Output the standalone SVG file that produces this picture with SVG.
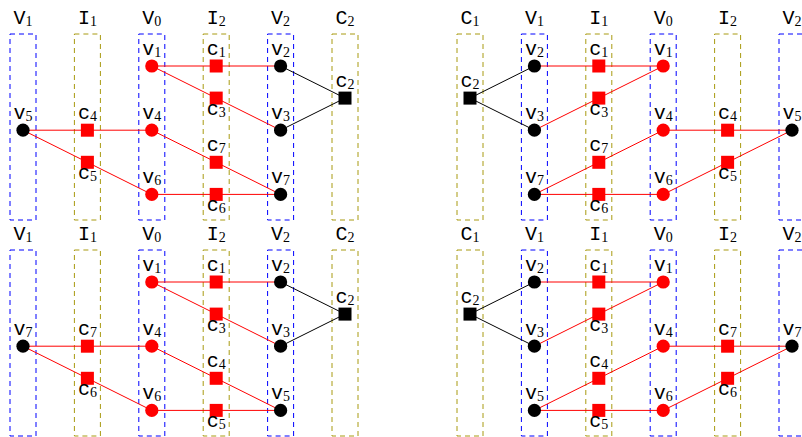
<svg xmlns="http://www.w3.org/2000/svg" width="802" height="437" viewBox="0 0 802 437">
<style>
.bv{fill:none;stroke:#0000ff;stroke-width:1;stroke-dasharray:5 4}
.bo{fill:none;stroke:#a89a10;stroke-width:1;stroke-dasharray:5 4}
.er{stroke:#ff0000;stroke-width:1;fill:none}
.eb{stroke:#000000;stroke-width:1;fill:none}
.nr{fill:#ff0000}
.nb{fill:#000000}
.t{font-family:"Liberation Mono",monospace;font-size:20px;fill:#000;text-anchor:middle}
.s{font-family:"Liberation Serif",serif;font-size:14px}
</style>
<rect width="802" height="437" fill="#fff"/>
<!-- column boxes and headers -->
<g id="columns">
<g id="tl-cols">
<rect class="bv" x="10" y="34" width="26" height="186"/><text class="t" x="23" y="24">V<tspan class="s" dy="2">1</tspan></text>
<rect class="bo" x="74.4" y="34" width="26" height="186"/><text class="t" x="87.4" y="24">I<tspan class="s" dy="2">1</tspan></text>
<rect class="bv" x="138.8" y="34" width="26" height="186"/><text class="t" x="151.8" y="24">V<tspan class="s" dy="2">0</tspan></text>
<rect class="bo" x="203.2" y="34" width="26" height="186"/><text class="t" x="216.2" y="24">I<tspan class="s" dy="2">2</tspan></text>
<rect class="bv" x="267.6" y="34" width="26" height="186"/><text class="t" x="280.6" y="24">V<tspan class="s" dy="2">2</tspan></text>
<rect class="bo" x="332" y="34" width="26" height="186"/><text class="t" x="345" y="24">C<tspan class="s" dy="2">2</tspan></text>
</g>
<g id="tr-cols">
<rect class="bo" x="457" y="34" width="26" height="186"/><text class="t" x="470" y="24">C<tspan class="s" dy="2">1</tspan></text>
<rect class="bv" x="521.4" y="34" width="26" height="186"/><text class="t" x="534.4" y="24">V<tspan class="s" dy="2">1</tspan></text>
<rect class="bo" x="585.8" y="34" width="26" height="186"/><text class="t" x="598.8" y="24">I<tspan class="s" dy="2">1</tspan></text>
<rect class="bv" x="650.2" y="34" width="26" height="186"/><text class="t" x="663.2" y="24">V<tspan class="s" dy="2">0</tspan></text>
<rect class="bo" x="714.6" y="34" width="26" height="186"/><text class="t" x="727.6" y="24">I<tspan class="s" dy="2">2</tspan></text>
<rect class="bv" x="779" y="34" width="26" height="186"/><text class="t" x="792" y="24">V<tspan class="s" dy="2">2</tspan></text>
</g>
<g id="bl-cols">
<rect class="bv" x="10" y="250" width="26" height="186"/><text class="t" x="23" y="240">V<tspan class="s" dy="2">1</tspan></text>
<rect class="bo" x="74.4" y="250" width="26" height="186"/><text class="t" x="87.4" y="240">I<tspan class="s" dy="2">1</tspan></text>
<rect class="bv" x="138.8" y="250" width="26" height="186"/><text class="t" x="151.8" y="240">V<tspan class="s" dy="2">0</tspan></text>
<rect class="bo" x="203.2" y="250" width="26" height="186"/><text class="t" x="216.2" y="240">I<tspan class="s" dy="2">2</tspan></text>
<rect class="bv" x="267.6" y="250" width="26" height="186"/><text class="t" x="280.6" y="240">V<tspan class="s" dy="2">2</tspan></text>
<rect class="bo" x="332" y="250" width="26" height="186"/><text class="t" x="345" y="240">C<tspan class="s" dy="2">2</tspan></text>
</g>
<g id="br-cols">
<rect class="bo" x="457" y="250" width="26" height="186"/><text class="t" x="470" y="240">C<tspan class="s" dy="2">1</tspan></text>
<rect class="bv" x="521.4" y="250" width="26" height="186"/><text class="t" x="534.4" y="240">V<tspan class="s" dy="2">1</tspan></text>
<rect class="bo" x="585.8" y="250" width="26" height="186"/><text class="t" x="598.8" y="240">I<tspan class="s" dy="2">1</tspan></text>
<rect class="bv" x="650.2" y="250" width="26" height="186"/><text class="t" x="663.2" y="240">V<tspan class="s" dy="2">0</tspan></text>
<rect class="bo" x="714.6" y="250" width="26" height="186"/><text class="t" x="727.6" y="240">I<tspan class="s" dy="2">2</tspan></text>
<rect class="bv" x="779" y="250" width="26" height="186"/><text class="t" x="792" y="240">V<tspan class="s" dy="2">2</tspan></text>
</g>
</g>
<!-- connectors -->
<g id="connectors">
<line class="er" x1="151.8" y1="66" x2="280.6" y2="66"/>
<line class="er" x1="151.8" y1="66" x2="280.6" y2="130.2"/>
<line class="eb" x1="280.6" y1="66" x2="345" y2="98.1"/>
<line class="eb" x1="280.6" y1="130.2" x2="345" y2="98.1"/>
<line class="er" x1="23" y1="130.2" x2="151.8" y2="130.2"/>
<line class="er" x1="23" y1="130.2" x2="151.8" y2="194.4"/>
<line class="er" x1="151.8" y1="130.2" x2="280.6" y2="194.4"/>
<line class="er" x1="151.8" y1="194.4" x2="280.6" y2="194.4"/>

<line class="eb" x1="470" y1="98.1" x2="534.4" y2="66"/>
<line class="eb" x1="470" y1="98.1" x2="534.4" y2="130.2"/>
<line class="er" x1="534.4" y1="66" x2="663.2" y2="66"/>
<line class="er" x1="534.4" y1="130.2" x2="663.2" y2="66"/>
<line class="er" x1="534.4" y1="194.4" x2="663.2" y2="130.2"/>
<line class="er" x1="534.4" y1="194.4" x2="663.2" y2="194.4"/>
<line class="er" x1="663.2" y1="130.2" x2="792" y2="130.2"/>
<line class="er" x1="663.2" y1="194.4" x2="792" y2="130.2"/>

<line class="er" x1="151.8" y1="282" x2="280.6" y2="282"/>
<line class="er" x1="151.8" y1="282" x2="280.6" y2="346.2"/>
<line class="eb" x1="280.6" y1="282" x2="345" y2="314.1"/>
<line class="eb" x1="280.6" y1="346.2" x2="345" y2="314.1"/>
<line class="er" x1="23" y1="346.2" x2="151.8" y2="346.2"/>
<line class="er" x1="23" y1="346.2" x2="151.8" y2="410.4"/>
<line class="er" x1="151.8" y1="346.2" x2="280.6" y2="410.4"/>
<line class="er" x1="151.8" y1="410.4" x2="280.6" y2="410.4"/>

<line class="eb" x1="470" y1="314.1" x2="534.4" y2="282"/>
<line class="eb" x1="470" y1="314.1" x2="534.4" y2="346.2"/>
<line class="er" x1="534.4" y1="282" x2="663.2" y2="282"/>
<line class="er" x1="534.4" y1="346.2" x2="663.2" y2="282"/>
<line class="er" x1="534.4" y1="410.4" x2="663.2" y2="346.2"/>
<line class="er" x1="534.4" y1="410.4" x2="663.2" y2="410.4"/>
<line class="er" x1="663.2" y1="346.2" x2="792" y2="346.2"/>
<line class="er" x1="663.2" y1="410.4" x2="792" y2="346.2"/>
</g>
<!-- top-left nodes -->
<g id="tl-v1"><circle class="nr" cx="151.8" cy="66" r="6.6"/><text class="t" x="151.8" y="55">v<tspan class="s" dy="2">1</tspan></text></g>
<g id="tl-c1"><rect class="nr" x="209.7" y="59.5" width="13" height="13"/><text class="t" x="216.2" y="55">c<tspan class="s" dy="2">1</tspan></text></g>
<g id="tl-v2"><circle class="nb" cx="280.6" cy="66" r="6.6"/><text class="t" x="280.6" y="55">v<tspan class="s" dy="2">2</tspan></text></g>
<g id="tl-c2"><rect class="nb" x="338.5" y="91.6" width="13" height="13"/><text class="t" x="345" y="87.1">c<tspan class="s" dy="2">2</tspan></text></g>
<g id="tl-c3"><rect class="nr" x="209.7" y="91.6" width="13" height="13"/><text class="t" x="216.2" y="115.1">c<tspan class="s" dy="2">3</tspan></text></g>
<g id="tl-v3"><circle class="nb" cx="280.6" cy="130.2" r="6.6"/><text class="t" x="280.6" y="119.2">v<tspan class="s" dy="2">3</tspan></text></g>
<g id="tl-v5"><circle class="nb" cx="23" cy="130.2" r="6.6"/><text class="t" x="23" y="119.2">v<tspan class="s" dy="2">5</tspan></text></g>
<g id="tl-c4"><rect class="nr" x="80.9" y="123.7" width="13" height="13"/><text class="t" x="87.4" y="119.2">c<tspan class="s" dy="2">4</tspan></text></g>
<g id="tl-v4"><circle class="nr" cx="151.8" cy="130.2" r="6.6"/><text class="t" x="151.8" y="119.2">v<tspan class="s" dy="2">4</tspan></text></g>
<g id="tl-c5"><rect class="nr" x="80.9" y="155.8" width="13" height="13"/><text class="t" x="87.4" y="179.3">c<tspan class="s" dy="2">5</tspan></text></g>
<g id="tl-c7"><rect class="nr" x="209.7" y="155.8" width="13" height="13"/><text class="t" x="216.2" y="151.3">c<tspan class="s" dy="2">7</tspan></text></g>
<g id="tl-v6"><circle class="nr" cx="151.8" cy="194.4" r="6.6"/><text class="t" x="151.8" y="183.4">v<tspan class="s" dy="2">6</tspan></text></g>
<g id="tl-c6"><rect class="nr" x="209.7" y="187.9" width="13" height="13"/><text class="t" x="216.2" y="211.4">c<tspan class="s" dy="2">6</tspan></text></g>
<g id="tl-v7"><circle class="nb" cx="280.6" cy="194.4" r="6.6"/><text class="t" x="280.6" y="183.4">v<tspan class="s" dy="2">7</tspan></text></g>
<!-- top-right nodes -->
<g id="tr-c2"><rect class="nb" x="463.5" y="91.6" width="13" height="13"/><text class="t" x="470" y="87.1">c<tspan class="s" dy="2">2</tspan></text></g>
<g id="tr-v2"><circle class="nb" cx="534.4" cy="66" r="6.6"/><text class="t" x="534.4" y="55">v<tspan class="s" dy="2">2</tspan></text></g>
<g id="tr-c1"><rect class="nr" x="592.3" y="59.5" width="13" height="13"/><text class="t" x="598.8" y="55">c<tspan class="s" dy="2">1</tspan></text></g>
<g id="tr-v1"><circle class="nr" cx="663.2" cy="66" r="6.6"/><text class="t" x="663.2" y="55">v<tspan class="s" dy="2">1</tspan></text></g>
<g id="tr-c3"><rect class="nr" x="592.3" y="91.6" width="13" height="13"/><text class="t" x="598.8" y="115.1">c<tspan class="s" dy="2">3</tspan></text></g>
<g id="tr-v3"><circle class="nb" cx="534.4" cy="130.2" r="6.6"/><text class="t" x="534.4" y="119.2">v<tspan class="s" dy="2">3</tspan></text></g>
<g id="tr-c7"><rect class="nr" x="592.3" y="155.8" width="13" height="13"/><text class="t" x="598.8" y="151.3">c<tspan class="s" dy="2">7</tspan></text></g>
<g id="tr-v7"><circle class="nb" cx="534.4" cy="194.4" r="6.6"/><text class="t" x="534.4" y="183.4">v<tspan class="s" dy="2">7</tspan></text></g>
<g id="tr-c6"><rect class="nr" x="592.3" y="187.9" width="13" height="13"/><text class="t" x="598.8" y="211.4">c<tspan class="s" dy="2">6</tspan></text></g>
<g id="tr-v4"><circle class="nr" cx="663.2" cy="130.2" r="6.6"/><text class="t" x="663.2" y="119.2">v<tspan class="s" dy="2">4</tspan></text></g>
<g id="tr-c4"><rect class="nr" x="721.1" y="123.7" width="13" height="13"/><text class="t" x="727.6" y="119.2">c<tspan class="s" dy="2">4</tspan></text></g>
<g id="tr-v5"><circle class="nb" cx="792" cy="130.2" r="6.6"/><text class="t" x="792" y="119.2">v<tspan class="s" dy="2">5</tspan></text></g>
<g id="tr-c5"><rect class="nr" x="721.1" y="155.8" width="13" height="13"/><text class="t" x="727.6" y="179.3">c<tspan class="s" dy="2">5</tspan></text></g>
<g id="tr-v6"><circle class="nr" cx="663.2" cy="194.4" r="6.6"/><text class="t" x="663.2" y="183.4">v<tspan class="s" dy="2">6</tspan></text></g>
<!-- bottom-left nodes -->
<g id="bl-v1"><circle class="nr" cx="151.8" cy="282" r="6.6"/><text class="t" x="151.8" y="271">v<tspan class="s" dy="2">1</tspan></text></g>
<g id="bl-c1"><rect class="nr" x="209.7" y="275.5" width="13" height="13"/><text class="t" x="216.2" y="271">c<tspan class="s" dy="2">1</tspan></text></g>
<g id="bl-v2"><circle class="nb" cx="280.6" cy="282" r="6.6"/><text class="t" x="280.6" y="271">v<tspan class="s" dy="2">2</tspan></text></g>
<g id="bl-c2"><rect class="nb" x="338.5" y="307.6" width="13" height="13"/><text class="t" x="345" y="303.1">c<tspan class="s" dy="2">2</tspan></text></g>
<g id="bl-c3"><rect class="nr" x="209.7" y="307.6" width="13" height="13"/><text class="t" x="216.2" y="331.1">c<tspan class="s" dy="2">3</tspan></text></g>
<g id="bl-v3"><circle class="nb" cx="280.6" cy="346.2" r="6.6"/><text class="t" x="280.6" y="335.2">v<tspan class="s" dy="2">3</tspan></text></g>
<g id="bl-v7"><circle class="nb" cx="23" cy="346.2" r="6.6"/><text class="t" x="23" y="335.2">v<tspan class="s" dy="2">7</tspan></text></g>
<g id="bl-c7"><rect class="nr" x="80.9" y="339.7" width="13" height="13"/><text class="t" x="87.4" y="335.2">c<tspan class="s" dy="2">7</tspan></text></g>
<g id="bl-v4"><circle class="nr" cx="151.8" cy="346.2" r="6.6"/><text class="t" x="151.8" y="335.2">v<tspan class="s" dy="2">4</tspan></text></g>
<g id="bl-c6"><rect class="nr" x="80.9" y="371.8" width="13" height="13"/><text class="t" x="87.4" y="395.3">c<tspan class="s" dy="2">6</tspan></text></g>
<g id="bl-c4"><rect class="nr" x="209.7" y="371.8" width="13" height="13"/><text class="t" x="216.2" y="367.3">c<tspan class="s" dy="2">4</tspan></text></g>
<g id="bl-v6"><circle class="nr" cx="151.8" cy="410.4" r="6.6"/><text class="t" x="151.8" y="399.4">v<tspan class="s" dy="2">6</tspan></text></g>
<g id="bl-c5"><rect class="nr" x="209.7" y="403.9" width="13" height="13"/><text class="t" x="216.2" y="427.4">c<tspan class="s" dy="2">5</tspan></text></g>
<g id="bl-v5"><circle class="nb" cx="280.6" cy="410.4" r="6.6"/><text class="t" x="280.6" y="399.4">v<tspan class="s" dy="2">5</tspan></text></g>
<!-- bottom-right nodes -->
<g id="br-c2"><rect class="nb" x="463.5" y="307.6" width="13" height="13"/><text class="t" x="470" y="303.1">c<tspan class="s" dy="2">2</tspan></text></g>
<g id="br-v2"><circle class="nb" cx="534.4" cy="282" r="6.6"/><text class="t" x="534.4" y="271">v<tspan class="s" dy="2">2</tspan></text></g>
<g id="br-c1"><rect class="nr" x="592.3" y="275.5" width="13" height="13"/><text class="t" x="598.8" y="271">c<tspan class="s" dy="2">1</tspan></text></g>
<g id="br-v1"><circle class="nr" cx="663.2" cy="282" r="6.6"/><text class="t" x="663.2" y="271">v<tspan class="s" dy="2">1</tspan></text></g>
<g id="br-c3"><rect class="nr" x="592.3" y="307.6" width="13" height="13"/><text class="t" x="598.8" y="331.1">c<tspan class="s" dy="2">3</tspan></text></g>
<g id="br-v3"><circle class="nb" cx="534.4" cy="346.2" r="6.6"/><text class="t" x="534.4" y="335.2">v<tspan class="s" dy="2">3</tspan></text></g>
<g id="br-c4"><rect class="nr" x="592.3" y="371.8" width="13" height="13"/><text class="t" x="598.8" y="367.3">c<tspan class="s" dy="2">4</tspan></text></g>
<g id="br-v5"><circle class="nb" cx="534.4" cy="410.4" r="6.6"/><text class="t" x="534.4" y="399.4">v<tspan class="s" dy="2">5</tspan></text></g>
<g id="br-c5"><rect class="nr" x="592.3" y="403.9" width="13" height="13"/><text class="t" x="598.8" y="427.4">c<tspan class="s" dy="2">5</tspan></text></g>
<g id="br-v4"><circle class="nr" cx="663.2" cy="346.2" r="6.6"/><text class="t" x="663.2" y="335.2">v<tspan class="s" dy="2">4</tspan></text></g>
<g id="br-c7"><rect class="nr" x="721.1" y="339.7" width="13" height="13"/><text class="t" x="727.6" y="335.2">c<tspan class="s" dy="2">7</tspan></text></g>
<g id="br-v7"><circle class="nb" cx="792" cy="346.2" r="6.6"/><text class="t" x="792" y="335.2">v<tspan class="s" dy="2">7</tspan></text></g>
<g id="br-c6"><rect class="nr" x="721.1" y="371.8" width="13" height="13"/><text class="t" x="727.6" y="395.3">c<tspan class="s" dy="2">6</tspan></text></g>
<g id="br-v6"><circle class="nr" cx="663.2" cy="410.4" r="6.6"/><text class="t" x="663.2" y="399.4">v<tspan class="s" dy="2">6</tspan></text></g>
</svg>
